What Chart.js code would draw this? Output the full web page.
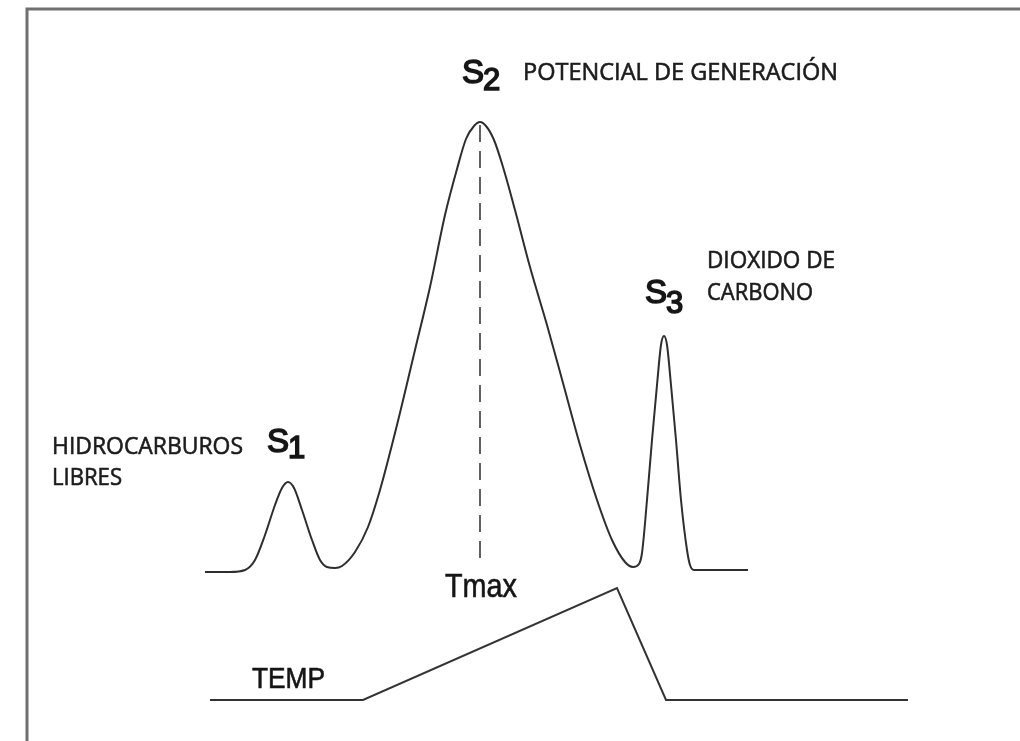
<!DOCTYPE html>
<html>
<head>
<meta charset="utf-8">
<script src="https://cdn.jsdelivr.net/npm/chart.js@4.4.0/dist/chart.umd.min.js"></script>
<style>
  html, body { margin: 0; padding: 0; background: #ffffff; }
  #wrap { width: 1020px; height: 741px; position: relative; }
</style>
</head>
<body>
<div id="wrap"><canvas id="c"></canvas></div>
<script>
// ---- Data (x = time units, y = signal height above baseline) ----
const signalX = [205, 230, 245, 255, 265, 275, 282, 288, 294, 302, 312, 320, 327, 335, 342, 355, 368, 380, 397, 415, 430, 445, 457, 466, 474, 480, 486, 494, 503, 515, 530, 547, 563, 580, 597, 612, 625, 633, 639, 642, 647, 652, 657, 661, 664, 667, 671, 676, 681, 687, 690, 694, 748];
const signalY = [0, 0, 2, 12, 37, 67, 84, 90, 84, 62, 32, 12, 5, 4, 6, 20, 45, 82, 147, 222, 285, 357, 403, 433, 446, 450, 446, 432, 405, 362, 305, 247, 189, 127, 72, 32, 10, 5, 8, 19, 72, 132, 187, 227, 236, 227, 187, 132, 72, 22, 7, 2, 2];

const tempX = [210, 363, 617, 666, 908];
const tempY = [0, 0, 112, 0, 0];

const tmaxX = [480, 480];
const tmaxY = [447, 9];

// Peak labels
const peakNames = ['S', 'S', 'S'];
const peakSubs = ['1', '2', '3'];
const descLines = [['HIDROCARBUROS', 'LIBRES'], ['POTENCIAL DE GENERACIÓN'], ['DIOXIDO DE', 'CARBONO']];
const axisLabels = ['Tmax', 'TEMP'];

const frameColor = '#707070';
const inkColor = '#2e2e2e';

const framePlugin = {
  id: 'frame',
  beforeDraw(chart) {
    const ctx = chart.ctx;
    ctx.save();
    ctx.fillStyle = '#ffffff';
    ctx.fillRect(0, 0, chart.width, chart.height);
    ctx.strokeStyle = frameColor;
    ctx.lineWidth = 3;
    ctx.beginPath();
    ctx.moveTo(27, chart.height + 2);
    ctx.lineTo(27, 9);
    ctx.lineTo(chart.width + 2, 9);
    ctx.stroke();
    ctx.restore();
  }
};

const textPlugin = {
  id: 'texts',
  afterDatasetsDraw(chart) {
    const ctx = chart.ctx;
    const xs = chart.scales.x, ys = chart.scales.y;
    const X = v => xs.getPixelForValue(v);
    const Y = v => ys.getPixelForValue(v);
    ctx.save();
    ctx.fillStyle = '#161616';
    ctx.strokeStyle = '#161616';
    ctx.textBaseline = 'alphabetic';
    ctx.textAlign = 'left';

    // Peak symbols S with subscript digit
    const peakPos = [[267, 120, 6], [462, 489, 7], [645, 269, 10]];
    peakPos.forEach((p, i) => {
      const x = X(p[0]), y = Y(p[1]);
      ctx.font = '33px "Liberation Sans", Arial, sans-serif';
      ctx.lineWidth = 1.6;
      ctx.fillText(peakNames[i], x, y);
      ctx.strokeText(peakNames[i], x, y);
      const w = ctx.measureText(peakNames[i]).width;
      ctx.font = '31px "Liberation Sans", Arial, sans-serif';
      ctx.fillText(peakSubs[i], x + w - 1, y + p[2]);
      ctx.strokeText(peakSubs[i], x + w - 1, y + p[2]);
    });

    // Descriptive labels (Calibri-like)
    ctx.fillStyle = '#1c1c1c';
    ctx.strokeStyle = '#1c1c1c';
    ctx.lineWidth = 0.6;
    const descPos = [
      [[52, 118, 191], [52, 87, 70]],
      [[523, 492, 315]],
      [[707, 304, 128], [707, 272, 106]]
    ];
    ctx.font = '24px "Open Sans", "Noto Sans", sans-serif';
    descLines.forEach((lines, i) => {
      lines.forEach((t, j) => {
        const p = descPos[i][j];
        ctx.fillText(t, X(p[0]), Y(p[1]), p[2]);
        ctx.strokeText(t, X(p[0]), Y(p[1]), p[2]);
      });
    });

    // Tmax and TEMP labels (narrow sans)
    ctx.fillStyle = '#151515';
    ctx.strokeStyle = '#151515';
    ctx.lineWidth = 0.6;
    ctx.font = '34px "Liberation Sans Narrow", "Liberation Sans", Arial, sans-serif';
    ctx.fillText(axisLabels[0], X(445), Y(-25), 72);
    ctx.strokeText(axisLabels[0], X(445), Y(-25), 72);
    ctx.font = '29px "Liberation Sans Narrow", "Liberation Sans", Arial, sans-serif';
    ctx.fillText(axisLabels[1], X(252), Y(-116), 73);
    ctx.strokeText(axisLabels[1], X(252), Y(-116), 73);
    ctx.restore();
  }
};

const toPts = (xa, ya) => xa.map((x, i) => ({ x: x, y: ya[i] }));

new Chart(document.getElementById('c'), {
  type: 'line',
  data: {
    datasets: [
      {
        label: 'Señal',
        data: toPts(signalX, signalY),
        borderColor: inkColor,
        borderWidth: 2,
        pointRadius: 0,
        cubicInterpolationMode: 'monotone',
        fill: false,
        yAxisID: 'y'
      },
      {
        label: 'Tmax',
        data: toPts(tmaxX, tmaxY),
        borderColor: '#3a3a3a',
        borderWidth: 1.6,
        borderDash: [17, 9],
        pointRadius: 0,
        tension: 0,
        fill: false,
        yAxisID: 'y'
      },
      {
        label: 'TEMP',
        data: toPts(tempX, tempY),
        borderColor: '#333333',
        borderWidth: 2,
        pointRadius: 0,
        tension: 0,
        fill: false,
        yAxisID: 'yT'
      }
    ]
  },
  options: {
    responsive: true,
    maintainAspectRatio: false,
    animation: false,
    layout: { padding: 0 },
    plugins: {
      legend: { display: false },
      tooltip: { enabled: false }
    },
    elements: { line: { borderCapStyle: 'butt', borderJoinStyle: 'miter' } },
    scales: {
      x: { type: 'linear', min: 0, max: 1020, display: false },
      y: { type: 'linear', min: -169, max: 572, display: false },
      yT: { type: 'linear', min: -41, max: 700, display: false }
    }
  },
  plugins: [framePlugin, textPlugin]
});
</script>
</body>
</html>
